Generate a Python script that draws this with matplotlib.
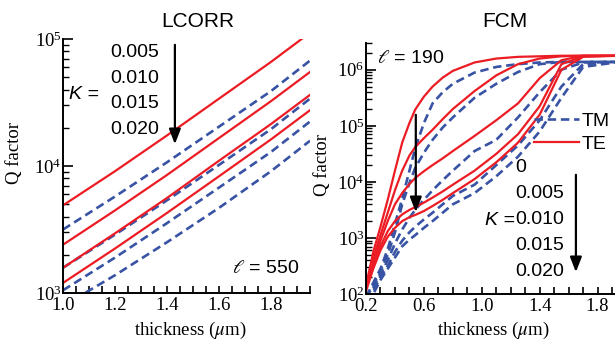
import matplotlib
matplotlib.use("Agg")
import matplotlib.pyplot as plt
import numpy as np
from matplotlib.lines import Line2D
from matplotlib.ticker import MultipleLocator, LogLocator, FormatStrFormatter

plt.rcParams["font.family"] = "serif"
plt.rcParams["font.serif"] = ["Liberation Serif", "DejaVu Serif"]
plt.rcParams["mathtext.fontset"] = "stix"

RED = "#ec1c24"
BLUE = "#3953a4"
SANS = ["Liberation Sans", "DejaVu Sans"]

K_LCORR = ["0.005", "0.010", "0.015", "0.020"]
K_FCM = ["0", "0.005", "0.010", "0.015", "0.020"]

# LCORR panel (l = 550), Q factor vs thickness
LC_X = [1.0, 1.2, 1.4, 1.6, 1.8, 1.95]
LC_TE = [
    [4900, 9100, 17400, 33900, 66000, 112000],
    [2400, 4470, 8500, 16600, 32400, 55000],
    [1580, 2950, 5600, 11000, 21400, 36300],
    [1200, 2240, 4270, 8300, 16200, 27500],
]
LC_TM = [
    [3160, 5750, 10700, 20400, 38900, 67600],
    [1580, 2880, 5370, 10200, 19500, 33900],
    [1050, 1900, 3550, 6760, 12900, 22400],
    [790, 1380, 2510, 4680, 9100, 15800],
]

# FCM panel (l = 190), log10(Q)
FCM_X = [0.2, 0.25, 0.3, 0.35, 0.4, 0.45, 0.5, 0.54, 0.6, 0.66, 0.73, 0.8, 0.95, 1.1,
         1.25, 1.4, 1.55, 1.7, 1.95]
FCM_TE_LOGQ = [
    [2.15, 2.75, 3.2, 3.68, 4.2, 4.7, 5.05, 5.29, 5.52, 5.7, 5.86, 5.98, 6.13, 6.2,
     6.23, 6.24, 6.25, 6.25, 6.25],
    [2.12, 2.65, 3.05, 3.45, 3.85, 4.2, 4.47, 4.62, 4.78, 4.93, 5.12, 5.3, 5.62, 5.9,
     6.1, 6.2, 6.24, 6.25, 6.25],
    [2.1, 2.55, 2.95, 3.3, 3.6, 3.8, 3.96, 4.07, 4.19, 4.3, 4.42, 4.55, 4.82, 5.1,
     5.4, 5.85, 6.17, 6.25, 6.25],
    [2.08, 2.5, 2.85, 3.12, 3.3, 3.42, 3.5, 3.55, 3.63, 3.72, 3.83, 3.95, 4.2, 4.5,
     4.85, 5.35, 6.1, 6.24, 6.25],
    [2.05, 2.45, 2.78, 3.02, 3.18, 3.3, 3.37, 3.41, 3.48, 3.57, 3.68, 3.8, 4.05, 4.35,
     4.7, 5.2, 6.0, 6.23, 6.25],
]
FCM_TM_LOGQ = [
    [1.95, 2.2, 2.45, 2.8, 3.25, 3.7, 4.2, 4.6, 5.05, 5.4, 5.6, 5.75, 5.95, 6.05,
     6.1, 6.13, 6.14, 6.14, 6.14],
    [1.93, 2.15, 2.4, 2.7, 3.1, 3.6, 3.98, 4.25, 4.52, 4.75, 4.97, 5.15, 5.5, 5.75,
     5.96, 6.1, 6.14, 6.14, 6.14],
    [1.9, 2.1, 2.35, 2.6, 2.9, 3.15, 3.36, 3.5, 3.68, 3.85, 4.03, 4.2, 4.55, 4.75,
     5.15, 5.6, 6.0, 6.13, 6.14],
    [1.88, 2.05, 2.3, 2.5, 2.75, 2.95, 3.1, 3.2, 3.33, 3.45, 3.6, 3.75, 3.95, 4.3,
     4.65, 5.1, 5.7, 6.1, 6.14],
    [1.85, 2.0, 2.25, 2.45, 2.65, 2.85, 2.97, 3.05, 3.18, 3.3, 3.45, 3.6, 3.8, 4.1,
     4.45, 4.9, 5.5, 6.05, 6.14],
]

DASH = (3.2, 1.8)
ARROW = dict(arrowstyle="-|>,head_length=0.9,head_width=0.35", color="black", lw=1.6)


def style_axes(ax, xmaj, xmin, xoff):
    for s in ("top", "right"):
        ax.spines[s].set_visible(False)
    for s in ("left", "bottom"):
        ax.spines[s].set_linewidth(1.4)
    ax.set_yscale("log")
    ax.xaxis.set_major_locator(MultipleLocator(xmaj, offset=xoff))
    ax.xaxis.set_minor_locator(MultipleLocator(xmin))
    ax.xaxis.set_major_formatter(FormatStrFormatter("%.1f"))
    ax.yaxis.set_major_locator(LogLocator(base=10))
    ax.yaxis.set_minor_locator(LogLocator(base=10, subs=np.arange(2, 10)))
    ax.tick_params(axis="x", which="major", direction="in", length=5, width=1.2,
                   labelsize=13.5, pad=3)
    ax.tick_params(axis="x", which="minor", direction="in", length=5, width=1.2)
    ax.tick_params(axis="y", which="major", direction="in", length=7, width=1.2,
                   labelsize=13.5, pad=1)
    ax.tick_params(axis="y", which="minor", direction="in", length=4, width=1.0)


fig = plt.figure(figsize=(6.15, 3.4), dpi=100)
ax1 = fig.add_axes([63 / 615, 1 - 293 / 340, 247 / 615, 254 / 340])
ax2 = fig.add_axes([366 / 615, 1 - 294 / 340, 249 / 615, 251 / 340])

# ── LCORR ──
for q in LC_TM:
    ax1.plot(LC_X, q, color=BLUE, lw=1.9, dashes=DASH)
for q in LC_TE:
    ax1.plot(LC_X, q, color=RED, lw=1.6)
ax1.set_xlim(1.0, 1.95)
ax1.set_ylim(1e3, 1e5)
style_axes(ax1, 0.2, 0.05, 0.0)

ax1.text(0.547, 1.067, "LCORR", transform=ax1.transAxes, ha="center", va="center",
         fontsize=15, family=SANS)
ax1.text(0.024, 0.78, "K =", transform=ax1.transAxes, ha="left", va="center",
         fontsize=14, family=SANS, style="italic")
for i, k in enumerate(K_LCORR):
    ax1.text(0.19, 0.945 - i * 0.1, k, transform=ax1.transAxes, ha="left",
             va="center", fontsize=14, family=SANS)
ax1.annotate("", xy=(0.453, 0.575), xytext=(0.453, 0.988), xycoords="axes fraction",
             arrowprops=ARROW)
ax1.text(0.955, 0.098, r"$\ell$ = 550", transform=ax1.transAxes, ha="right",
         va="center", fontsize=14, family=SANS)

# ── FCM ──
for lq in FCM_TM_LOGQ:
    ax2.plot(FCM_X, 10 ** np.array(lq), color=BLUE, lw=1.9, dashes=DASH)
for lq in FCM_TE_LOGQ:
    ax2.plot(FCM_X, 10 ** np.array(lq), color=RED, lw=1.6)
ax2.set_xlim(0.2, 1.92)
ax2.set_ylim(1e2, 3e6)
style_axes(ax2, 0.4, 0.1, 0.2)

ax2.text(0.558, 1.084, "FCM", transform=ax2.transAxes, ha="center", va="center",
         fontsize=15, family=SANS)
ax2.text(0.044, 0.94, r"$\ell$ = 190", transform=ax2.transAxes, ha="left",
         va="center", fontsize=14, family=SANS)
handles = [Line2D([], [], color=BLUE, lw=1.9, dashes=DASH),
           Line2D([], [], color=RED, lw=1.6)]
ax2.legend(handles, ["TM", "TE"], loc="upper left", bbox_to_anchor=(0.675, 0.725),
           frameon=False, borderpad=0, borderaxespad=0, handlelength=2.3,
           handletextpad=0.15, labelspacing=0.3,
           prop={"family": SANS, "size": 14})
for i, k in enumerate(K_FCM):
    ax2.text(0.598, 0.502 - i * 0.1035, k, transform=ax2.transAxes, ha="left",
             va="center", fontsize=14, family=SANS)
ax2.text(0.597, 0.291, "K =", transform=ax2.transAxes, ha="right", va="center",
         fontsize=14, family=SANS, style="italic")
ax2.annotate("", xy=(0.843, 0.076), xytext=(0.843, 0.486), xycoords="axes fraction",
             arrowprops=ARROW)
ax2.annotate("", xy=(0.2, 0.315), xytext=(0.2, 0.725), xycoords="axes fraction",
             arrowprops=ARROW)

# axis labels
fig.text(15 / 615, 1 - 153 / 340, "Q factor", rotation=90, ha="center", va="center",
         fontsize=13.5)
fig.text(322 / 615, 1 - 165 / 340, "Q factor", rotation=90, ha="center", va="center",
         fontsize=13.5)
fig.text(190 / 615, 1 - 330 / 340, r"thickness ($\mu$m)", ha="center", va="center",
         fontsize=13.5)
fig.text(493 / 615, 1 - 330 / 340, r"thickness ($\mu$m)", ha="center", va="center",
         fontsize=13.5)

fig.savefig("out.png", dpi=100)
